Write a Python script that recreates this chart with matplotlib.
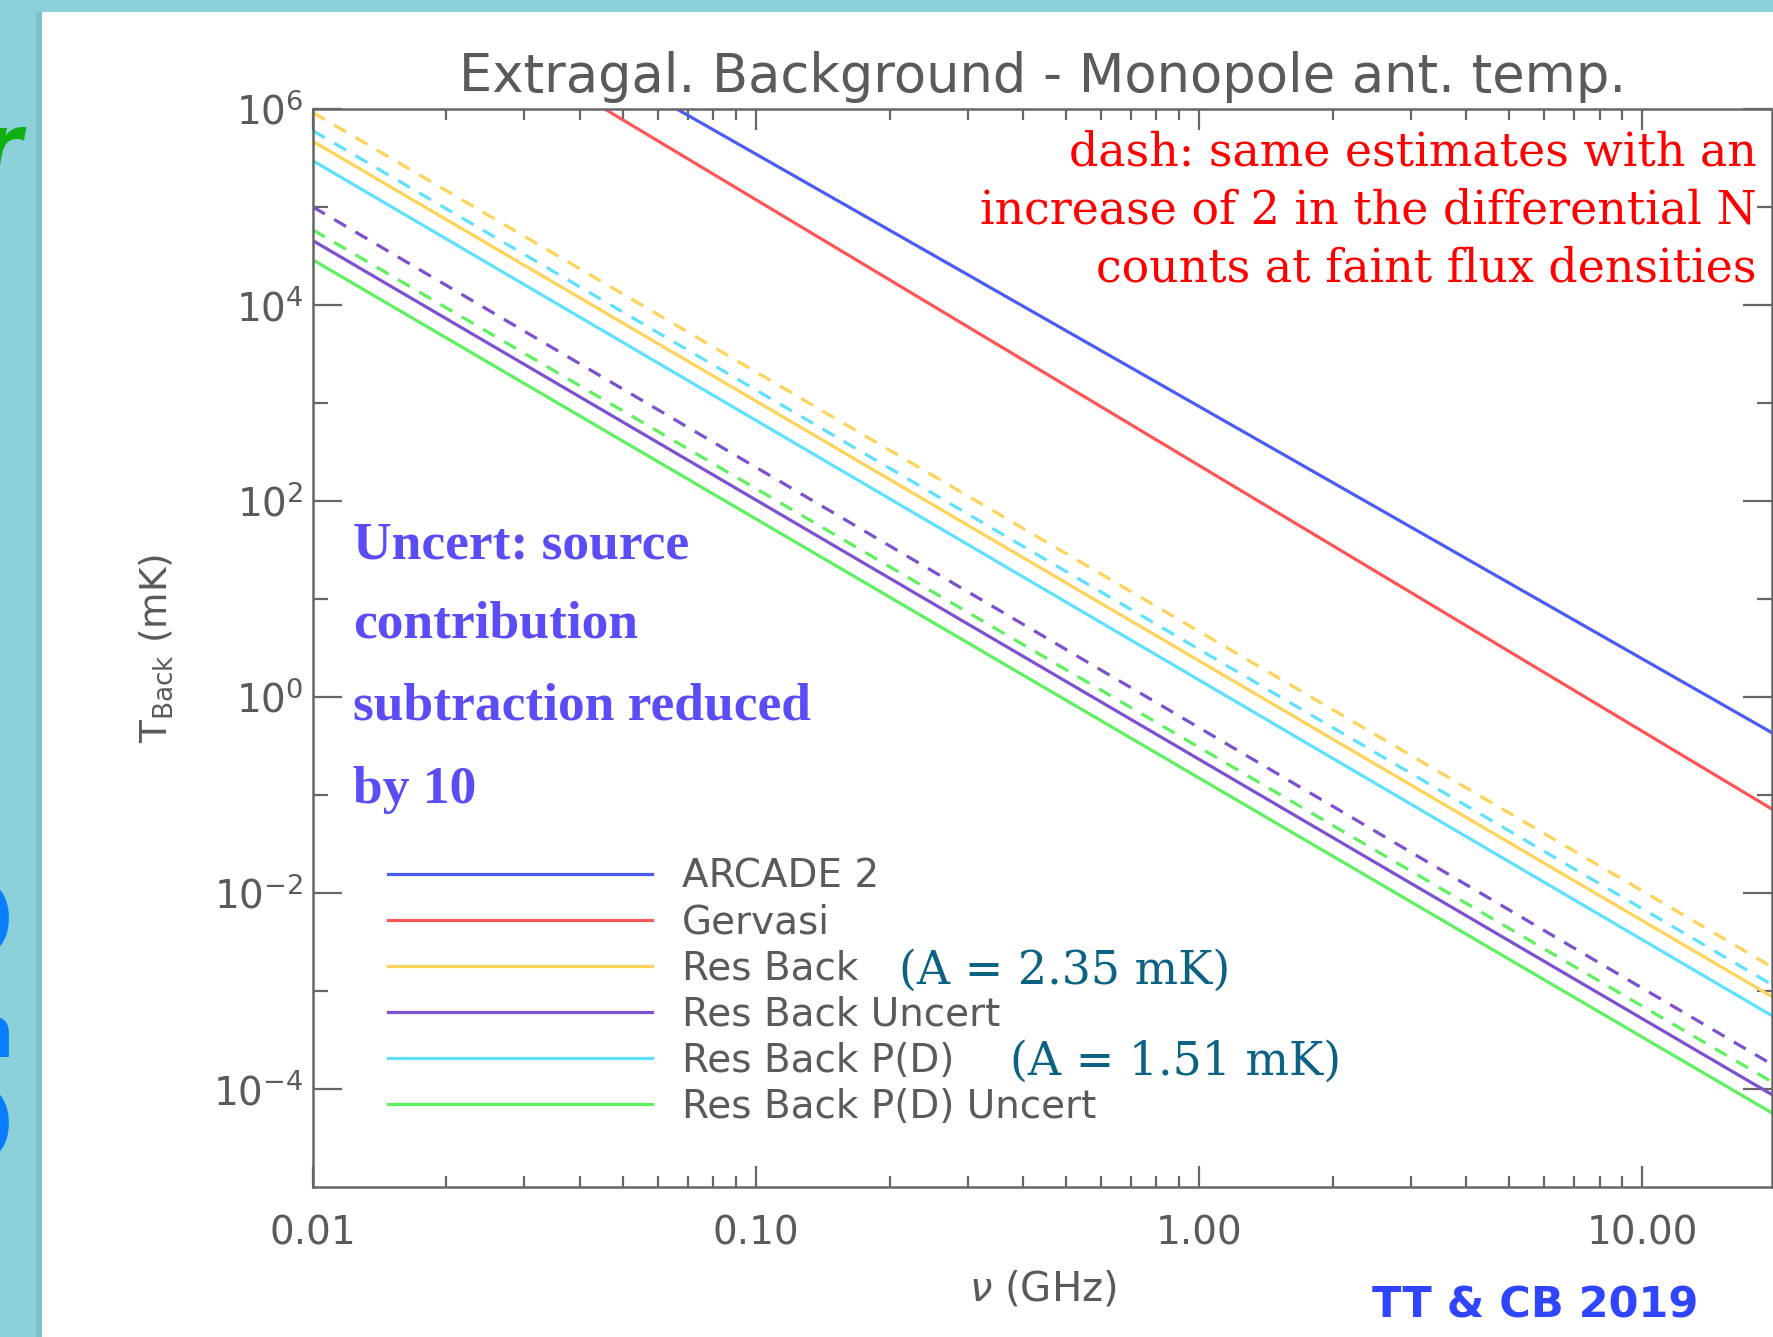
import numpy as np
import matplotlib
matplotlib.use("Agg")
import matplotlib.pyplot as plt
from matplotlib.patches import Rectangle
from matplotlib.ticker import FixedLocator, FuncFormatter, NullFormatter

W, H = 1773, 1337

# frequency span of every curve (GHz)
nu_ends = [0.01, 20.0]

# monopole antenna temperature (mK) at the two ends of the span
t_arcade = [1.3e8, 0.41]
t_gervasi = [6.1e7, 0.068]
t_res = [4.67e5, 8.3e-4]
t_res_unc = [4.53e4, 8.3e-5]
t_pd = [2.96e5, 5.3e-4]
t_pd_unc = [2.88e4, 5.4e-5]

# same estimates with the faint differential counts doubled
t_res_x2 = [9.2e5, 1.67e-3]
t_res_unc_x2 = [1.0e5, 1.69e-4]
t_pd_x2 = [6.0e5, 1.10e-3]
t_pd_unc_x2 = [5.83e4, 1.12e-4]

labels = ["ARCADE 2", "Gervasi", "Res Back", "Res Back Uncert",
          "Res Back P(D)", "Res Back P(D) Uncert"]
colors = ["#4a5cf5", "#ff5555", "#ffd35a", "#7d50d0", "#5fe0ff", "#5ef05e"]

x_ticks = [0.01, 0.1, 1, 10]
x_ticklabels = ["0.01", "0.10", "1.00", "10.00"]
y_ticks = [1e-4, 1e-2, 1e0, 1e2, 1e4, 1e6]
y_minor = [1e-3, 1e-1, 1e1, 1e3, 1e5]

note_red = ["dash: same estimates with an",
            "increase of 2 in the differential N",
            "counts at faint flux densities"]
note_purple = ["Uncert: source", "contribution", "subtraction reduced", "by 10"]

AXIS_GREY = "#5a5a5a"


def px(x, y):
    return x / W, 1 - y / H


fig = plt.figure(figsize=(W / 100, H / 100), dpi=100)
fig.patch.set_facecolor("#8cd1d9")

# clipped slide title letters peeking out on the left
fig.text(*px(22, 150), "r", fontsize=60, color="#10b010", weight="bold",
         style="italic", ha="right", va="center", zorder=-3)
fig.text(*px(14, 958), "O", fontsize=80, color="#0a7cff", weight="bold",
         ha="right", va="baseline", zorder=-3)
fig.text(*px(14, 1057), "n", fontsize=52, color="#0a7cff", weight="bold",
         ha="right", va="baseline", zorder=-3)
fig.text(*px(14, 1163), "O", fontsize=80, color="#0a7cff", weight="bold",
         ha="right", va="baseline", zorder=-3)

# white panel with a soft shadow on its left edge
fig.add_artist(Rectangle(px(36, H), 6 / W, 1 - 12 / H, transform=fig.transFigure,
                         facecolor="#5aa9b4", alpha=0.35, edgecolor="none", zorder=-2))
fig.add_artist(Rectangle(px(42, H), 1 - 42 / W, 1 - 12 / H, transform=fig.transFigure,
                         facecolor="white", edgecolor="none", zorder=-1))

ax = fig.add_axes([313 / W, 150 / H, 1459 / W, 1078 / H])
ax.set_facecolor("none")
ax.set_xscale("log")
ax.set_yscale("log")

solid = [t_arcade, t_gervasi, t_res, t_res_unc, t_pd, t_pd_unc]
dashed = [t_res_x2, t_res_unc_x2, t_pd_x2, t_pd_unc_x2]

for t, c, lab in zip(solid, colors, labels):
    ax.plot(nu_ends, t, color=c, lw=2.3, label=lab)
for t, c in zip(dashed, colors[2:]):
    ax.plot(nu_ends, t, color=c, lw=2.3, dashes=(4.3, 3.4))

ax.set_xlim(0.01, 19.6)
ax.set_ylim(1e-5, 1e6)

ax.xaxis.set_major_locator(FixedLocator(x_ticks))
ax.xaxis.set_minor_locator(FixedLocator([k * 10.0 ** e for e in (-2, -1, 0, 1)
                                         for k in range(2, 10)]))
ax.xaxis.set_major_formatter(FuncFormatter(lambda v, p: x_ticklabels[p]))
ax.xaxis.set_minor_formatter(NullFormatter())
ax.yaxis.set_major_locator(FixedLocator(y_ticks))
ax.yaxis.set_minor_locator(FixedLocator(y_minor))
ax.yaxis.set_major_formatter(FuncFormatter(lambda v, p: r"$10^{%d}$" % round(np.log10(v))))
ax.yaxis.set_minor_formatter(NullFormatter())

ax.tick_params(which="both", direction="in", top=True, right=True,
               color="#666666", width=1.6, labelcolor=AXIS_GREY, labelsize=28)
ax.tick_params(axis="x", which="major", length=15, pad=20)
ax.tick_params(axis="x", which="minor", length=8)
ax.tick_params(axis="y", which="major", length=21, pad=7)
ax.tick_params(axis="y", which="minor", length=11)
for s in ax.spines.values():
    s.set_color("#666666")
    s.set_linewidth(1.8)

ax.set_title("Extragal. Background - Monopole ant. temp.", fontsize=38,
             color=AXIS_GREY, pad=12)
ax.set_xlabel(r"$\nu$ (GHz)", fontsize=29, color=AXIS_GREY, labelpad=12)
ax.set_ylabel(r"T$_{\rm Back}$ (mK)", fontsize=27, color=AXIS_GREY, labelpad=27)

leg = ax.legend(loc="upper left", bbox_to_anchor=(0.0514, 0.306), frameon=False,
                fontsize=28, handlelength=6.8, handletextpad=0.75, labelspacing=0.21,
                borderpad=0, borderaxespad=0)
for txt in leg.get_texts():
    txt.set_color(AXIS_GREY)

for line, y in zip(note_red, [165, 223, 282]):
    fig.text(*px(1757, y), line, fontsize=33, family="DejaVu Serif",
             color="#ff0000", ha="right", va="baseline")

for line, y in zip(note_purple, [558, 637, 719, 803]):
    fig.text(*px(353, y), line, fontsize=38.5, family="Liberation Serif",
             weight="bold", color="#5b4cf5", ha="left", va="baseline")

fig.text(*px(899, 984), "(A = 2.35 mK)", fontsize=33, family="DejaVu Serif",
         color="#0b6283", ha="left", va="baseline")
fig.text(*px(1010, 1075), "(A = 1.51 mK)", fontsize=33, family="DejaVu Serif",
         color="#0b6283", ha="left", va="baseline")

fig.text(*px(1372, 1318), "TT & CB 2019", fontsize=31, weight="bold",
         color="#2f45ff", ha="left", va="baseline")

fig.savefig("out.png", dpi=100, facecolor=fig.get_facecolor())
